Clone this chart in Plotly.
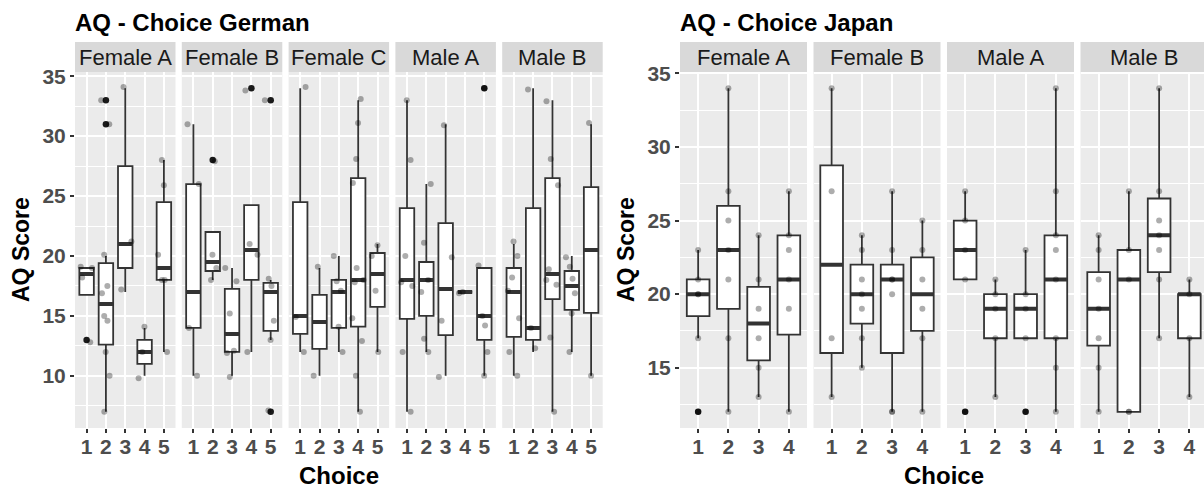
import plotly.graph_objects as go

# ---------------- data: German ----------------
ger_facets = ["Female A", "Female B", "Female C", "Male A", "Male B"]
ger_choices = [1, 2, 3, 4, 5]
ger_q1 = [[16.75, 12.6, 19, 11, 18], [14, 18.75, 12, 18, 13.75], [13.5, 12.25, 14, 14.1, 15.75],
          [14.75, 15, 13.4, 17, 13], [13.25, 13, 16.4, 15.5, 15.25]]
ger_med = [[18.5, 16, 21, 12, 19], [17, 19.5, 13.5, 20.5, 17], [15, 14.5, 17, 18, 18.5],
           [18, 18, 17.25, 17, 15], [17, 14, 18.5, 17.5, 20.5]]
ger_q3 = [[19, 19.4, 27.5, 13, 24.5], [26, 22, 17.25, 24.25, 17.75], [24.5, 16.75, 18, 26.5, 20.25],
          [24, 19.5, 22.75, 17, 19], [19, 24, 26.5, 18.75, 25.75]]
ger_lo = [[16.75, 7, 17, 10, 12], [10, 18, 10, 12, 13], [12, 10, 12, 7, 12],
          [7, 12, 10, 17, 10], [10, 12, 7, 12, 10]]
ger_hi = [[19, 20, 34, 14, 28], [31, 22, 19, 24.25, 18], [34, 19, 20, 33, 21],
          [33, 26, 31, 17, 19], [21, 34, 33, 20, 31]]
ger_out = [[[13], [33, 31], [], [], []],
           [[], [28], [], [34], [33, 7]],
           [[], [], [], [], []],
           [[], [], [], [], [34]],
           [[], [], [], [], []]]
ger_pts = [
    [[19.1, 19.0, 18.2, 12.8], [33, 31, 20.1, 17.5, 16.9, 15.0, 14.6, 12.0, 10.0, 7.0],
     [34.1, 21.2, 17.2], [14.1, 12, 9.8], [28, 25.9, 20.1, 18, 18, 12]],
    [[31, 26, 14, 10], [27.9, 20.1, 19, 18], [19, 17.9, 15.2, 12.1, 11.9, 9.9],
     [33.8, 21, 20.1, 12], [33, 18.1, 17.5, 14.6, 13, 7.1]],
    [[34.1, 14.9, 12], [19.1, 10], [20, 17.9, 17.1, 14.1, 12],
     [33.1, 31.1, 28.1, 26.1, 19, 17.8, 18, 14.8, 12.9, 10, 7], [20.9, 20, 17.1, 12]],
    [[33, 28, 20, 17.8, 17.5, 12, 7], [26, 21.1, 18, 17, 13.1, 12], [30.9, 19.9, 14.6, 9.9],
     [16.9, 17], [34, 19.2, 15, 14.2, 12, 10]],
    [[21.2, 20, 18.2, 17.1, 14.8, 12, 10], [33.9, 14, 12.3], [32.9, 28.1, 25.9, 18.9, 18, 17.6, 13.2, 7],
     [19.9, 19.1, 18.1, 16.9, 15.2, 12], [31.1, 10]],
]

# ---------------- data: Japan ----------------
jap_facets = ["Female A", "Female B", "Male A", "Male B"]
jap_choices = [1, 2, 3, 4]
jap_q1 = [[18.5, 19, 15.5, 17.25], [16, 18, 16, 17.5], [21, 17, 17, 17], [16.5, 12, 21.5, 17]]
jap_med = [[20, 23, 18, 21], [22, 20, 21, 20], [23, 19, 19, 21], [19, 21, 24, 20]]
jap_q3 = [[21, 26, 20.5, 24], [28.75, 22, 22, 22.5], [25, 20, 20, 24], [21.5, 23, 26.5, 20]]
jap_lo = [[17, 12, 13, 12], [13, 15, 12, 12], [21, 13, 17, 12], [12, 12, 17, 13]]
jap_hi = [[23, 34, 24, 27], [34, 24, 27, 25], [27, 21, 23, 34], [24, 27, 34, 21]]
jap_out = [[[12], [], [], []],
           [[], [], [], []],
           [[12], [], [12], []],
           [[], [], [], []]]
jap_pts = [
    [[23, 21, 20, 20, 17, 12], [34, 27, 25, 23, 21, 17, 12], [24, 21, 19, 17, 15, 13], [27, 24, 23, 21, 19, 12]],
    [[34, 27, 17, 13], [24, 23, 21, 20, 19, 17, 15], [27, 23, 21, 21, 20, 12, 12], [25, 23, 21, 19, 17, 12]],
    [[27, 25, 23, 21, 12], [21, 20, 19, 17, 13], [23, 20, 19, 17, 12], [34, 27, 24, 23, 21, 17, 15, 12]],
    [[24, 23, 21, 19, 17, 15, 12], [27, 23, 21, 12, 12], [34, 27, 25, 24, 23, 21, 17], [21, 20, 17, 13]],
]

ger_title = "AQ - Choice German"
jap_title = "AQ - Choice Japan"
y_title = "AQ Score"
x_title = "Choice"

# ---------------- styling / layout ----------------
W, H = 1204, 489
FONT = "Liberation Sans, Arial, sans-serif"
BOX_LINE = "#333333"
PANEL_BG = "#EBEBEB"
STRIP_BG = "#D9D9D9"
TICK_COL = "#4D4D4D"


def fx(p):
    return p / W


def fy(p):
    return 1 - p / H


PANEL_TOP, PANEL_BOT = 72, 428
STRIP_TOP = 42
ydom = [fy(PANEL_BOT), fy(PANEL_TOP)]

fig = go.Figure()


def add_facet(xa, ya, choices, q1, med, q3, lo, hi, outs, pts, jitter):
    common = dict(xaxis=xa, yaxis=ya, hoverinfo="skip", showlegend=False)
    fig.add_trace(go.Box(x=choices, q1=q1, median=med, q3=q3, lowerfence=lo, upperfence=hi,
                         width=0.75, whiskerwidth=0, fillcolor="white",
                         line=dict(color=BOX_LINE, width=1.8), boxpoints=False, **common))
    fig.add_trace(go.Box(x=choices, q1=med, median=med, q3=med, lowerfence=med, upperfence=med,
                         width=0.75, whiskerwidth=0, fillcolor="rgba(0,0,0,0)",
                         line=dict(color=BOX_LINE, width=4), boxpoints=False, **common))
    ox = [c for c, o in zip(choices, outs) for _ in o]
    oy = [v for o in outs for v in o]
    if ox:
        fig.add_trace(go.Box(x=ox, y=oy, boxpoints="all", jitter=0, pointpos=0, width=0.8,
                             fillcolor="rgba(0,0,0,0)", line=dict(width=0, color="rgba(0,0,0,0)"),
                             marker=dict(color="#1A1A1A", size=6.5), **common))
    px_ = [c for c, p in zip(choices, pts) for _ in p]
    py_ = [v for p in pts for v in p]
    fig.add_trace(go.Box(x=px_, y=py_, boxpoints="all", jitter=jitter, pointpos=0, width=0.8,
                         fillcolor="rgba(0,0,0,0)", line=dict(width=0, color="rgba(0,0,0,0)"),
                         marker=dict(color="rgba(0,0,0,0.32)", size=6), **common))


layout = dict(
    width=W, height=H, margin=dict(l=0, r=0, t=0, b=0, autoexpand=False),
    paper_bgcolor="white", plot_bgcolor=PANEL_BG, boxmode="overlay",
    font=dict(family=FONT, color="#1A1A1A"), showlegend=False,
)

xaxis_common = dict(
    showgrid=True, gridcolor="white", gridwidth=1.5, zeroline=False, showline=False,
    ticks="outside", ticklen=4, tickwidth=1.5, tickcolor=BOX_LINE,
    tickfont=dict(size=21, color=TICK_COL, family=FONT, weight="bold"),
    ticklabelstandoff=-4,
    fixedrange=True, automargin=False,
)

shapes = []
annotations = []

# German panels
g_start, g_step, g_w = 75, 106.8, 100.5
for i, name in enumerate(ger_facets):
    idx = i + 1
    xa = "x" if idx == 1 else f"x{idx}"
    key = "xaxis" if idx == 1 else f"xaxis{idx}"
    x0 = g_start + i * g_step
    x1 = x0 + g_w
    layout[key] = dict(xaxis_common, domain=[fx(x0), fx(x1)], range=[0.4, 5.6],
                       tickmode="array", tickvals=ger_choices, ticktext=[str(c) for c in ger_choices],
                       anchor="y")
    add_facet(xa, "y", ger_choices, ger_q1[i], ger_med[i], ger_q3[i], ger_lo[i], ger_hi[i],
              ger_out[i], ger_pts[i], jitter=0.9)
    shapes.append(dict(type="rect", xref="paper", yref="paper", x0=fx(x0), x1=fx(x1),
                       y0=fy(PANEL_TOP), y1=fy(STRIP_TOP), fillcolor=STRIP_BG, line=dict(width=0),
                       layer="below"))
    annotations.append(dict(text=name, xref="paper", yref="paper", x=fx((x0 + x1) / 2),
                            y=fy((PANEL_TOP + STRIP_TOP) / 2), xanchor="center", yanchor="middle",
                            showarrow=False, font=dict(size=22, color="#1A1A1A", family=FONT)))

# Japan panels
j_start, j_step, j_w = 680, 133.5, 127
unit = j_w / 4.2
for i, name in enumerate(jap_facets):
    idx = i + 6
    xa = f"x{idx}"
    key = f"xaxis{idx}"
    x0 = j_start + i * j_step
    x1 = min(x0 + j_w, W)
    layout[key] = dict(xaxis_common, domain=[fx(x0), min(1.0, fx(x1))],
                       range=[0.4, 0.4 + (x1 - x0) / unit],
                       tickmode="array", tickvals=jap_choices, ticktext=[str(c) for c in jap_choices],
                       anchor="y2")
    add_facet(xa, "y2", jap_choices, jap_q1[i], jap_med[i], jap_q3[i], jap_lo[i], jap_hi[i],
              jap_out[i], jap_pts[i], jitter=0)
    shapes.append(dict(type="rect", xref="paper", yref="paper", x0=fx(x0), x1=min(1.0, fx(x1)),
                       y0=fy(PANEL_TOP), y1=fy(STRIP_TOP), fillcolor=STRIP_BG, line=dict(width=0),
                       layer="below"))
    annotations.append(dict(text=name, xref="paper", yref="paper", x=fx(x0 + j_w / 2),
                            y=fy((PANEL_TOP + STRIP_TOP) / 2), xanchor="center", yanchor="middle",
                            showarrow=False, font=dict(size=22, color="#1A1A1A", family=FONT)))

yaxis_common = dict(
    domain=ydom, showgrid=True, gridcolor="white", gridwidth=1.5, zeroline=False, showline=False,
    ticks="outside", ticklen=4, tickwidth=1.5, tickcolor=BOX_LINE,
    tickfont=dict(size=21, color=TICK_COL, family=FONT, weight="bold"),
    tickmode="array", fixedrange=True, automargin=False,
)
layout["yaxis"] = dict(yaxis_common, anchor="x", range=[5.65, 35.35],
                       tickvals=[10, 15, 20, 25, 30, 35],
                       minor=dict(tickvals=[7.5, 12.5, 17.5, 22.5, 27.5, 32.5], showgrid=True,
                                  gridcolor="white", gridwidth=0.8))
layout["yaxis2"] = dict(yaxis_common, anchor="x6", range=[10.9, 35.1],
                        tickvals=[15, 20, 25, 30, 35],
                        minor=dict(tickvals=[12.5, 17.5, 22.5, 27.5, 32.5], showgrid=True,
                                   gridcolor="white", gridwidth=0.8))

# titles
for txt, xpx in [(ger_title, 75), (jap_title, 680)]:
    annotations.append(dict(text=f"<b>{txt}</b>", xref="paper", yref="paper", x=fx(xpx - 2), y=fy(23),
                            xanchor="left", yanchor="middle", showarrow=False,
                            font=dict(size=24, color="black", family=FONT)))
for xpx in [21, 626]:
    annotations.append(dict(text=f"<b>{y_title}</b>", xref="paper", yref="paper", x=fx(xpx),
                            y=fy((PANEL_TOP + PANEL_BOT) / 2), xanchor="center", yanchor="middle",
                            textangle=-90, showarrow=False,
                            font=dict(size=23, color="black", family=FONT)))
for xpx in [339, 944]:
    annotations.append(dict(text=f"<b>{x_title}</b>", xref="paper", yref="paper", x=fx(xpx),
                            y=fy(475), xanchor="center", yanchor="middle", showarrow=False,
                            font=dict(size=24, color="black", family=FONT)))

layout["shapes"] = shapes
layout["annotations"] = annotations
fig.update_layout(**layout)

fig.write_html("out.html", config={"displayModeBar": False})
